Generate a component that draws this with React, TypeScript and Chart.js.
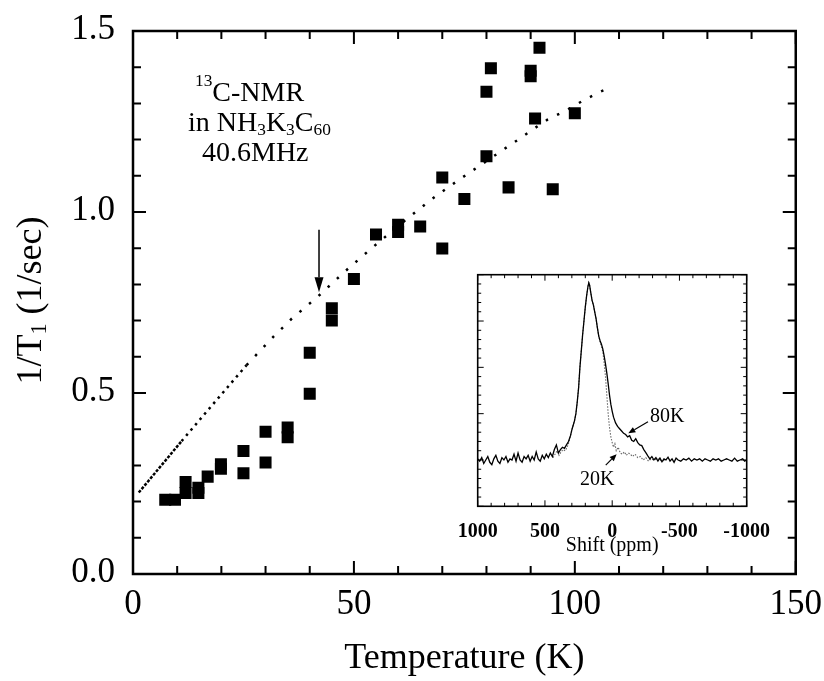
import React, { useEffect, useRef } from 'react';
import { Chart, registerables } from 'chart.js';

Chart.register(...registerables);

const SERIF = '"Liberation Serif", "Times New Roman", "DejaVu Serif", serif';

// ---- main data: 1/T1 vs temperature ----
const tempK = [7.3, 9.5, 11.9, 11.9, 14.8, 14.8, 16.9, 19.9, 19.9, 25, 25, 30, 30, 35, 35, 40, 40, 45, 45, 50, 55, 60, 60, 65, 70, 70, 75, 80, 80, 81, 85, 90, 90, 91, 92, 95, 100];
const invT1 = [0.205, 0.205, 0.254, 0.224, 0.238, 0.224, 0.269, 0.303, 0.291, 0.340, 0.278, 0.393, 0.308, 0.405, 0.378, 0.611, 0.498, 0.734, 0.700, 0.815, 0.938, 0.965, 0.945, 0.960, 0.899, 1.095, 1.036, 1.154, 1.332, 1.397, 1.068, 1.390, 1.375, 1.258, 1.454, 1.063, 1.273];

// dotted guide line (three density sections)
const fitDenseT = [1.3, 11];
const fitDenseV = [0.225, 0.367];
const fitMidT = [11, 16.7, 25.7];
const fitMidV = [0.367, 0.449, 0.577];
const fitT = [25.7, 31.9, 35.9, 41.9, 47.9, 53.9, 61.8, 67.9, 73.9, 83.9, 87.8, 91.8, 93.8, 97.8, 101.9, 105.9, 108];
const fitV = [0.577, 0.657, 0.705, 0.767, 0.835, 0.899, 0.979, 1.038, 1.09, 1.173, 1.205, 1.239, 1.255, 1.279, 1.308, 1.333, 1.344];

// arrow marking the transition
const arrowT = 42.1;
const arrowFrom = 0.951;
const arrowTo = 0.778;

const xTickLabels = [0, 50, 100, 150];
const yTickLabels = ['0.0', '0.5', '1.0', '1.5'];

// ---- inset data: spectra ----
const spec80Ppm = [1000, 985, 970, 955, 940, 925, 910, 895, 880, 865, 850, 835, 820, 805, 790, 775, 760, 745, 730, 715, 700, 685, 670, 655, 640, 625, 610, 595, 580, 565, 550, 535, 520, 505, 490, 475, 460, 445, 430, 415, 400, 385, 370, 355, 340, 325, 310, 300, 290, 280, 270, 260, 250, 240, 230, 220, 210, 200, 190, 180, 174, 168, 160, 150, 140, 130, 120, 110, 100, 90, 80, 70, 60, 50, 40, 30, 20, 10, 0, -10, -25, -40, -55, -70, -85, -100, -115, -130, -145, -160, -175, -190, -205, -220, -235, -250, -265, -280, -295, -310, -325, -340, -355, -370, -385, -400, -415, -430, -445, -460, -475, -490, -510, -530, -550, -570, -590, -610, -630, -650, -670, -690, -710, -730, -750, -770, -790, -810, -830, -850, -870, -890, -910, -930, -950, -970, -985, -1000];
const spec80Int = [0.205, 0.195, 0.210, 0.185, 0.200, 0.215, 0.190, 0.180, 0.205, 0.220, 0.195, 0.185, 0.210, 0.200, 0.215, 0.190, 0.205, 0.200, 0.225, 0.195, 0.230, 0.200, 0.190, 0.215, 0.205, 0.220, 0.195, 0.215, 0.200, 0.235, 0.205, 0.195, 0.220, 0.205, 0.225, 0.210, 0.230, 0.215, 0.245, 0.265, 0.230, 0.245, 0.255, 0.250, 0.265, 0.280, 0.305, 0.330, 0.350, 0.370, 0.400, 0.450, 0.510, 0.600, 0.670, 0.740, 0.800, 0.860, 0.910, 0.950, 0.965, 0.955, 0.925, 0.890, 0.870, 0.840, 0.810, 0.770, 0.735, 0.715, 0.700, 0.680, 0.650, 0.615, 0.575, 0.530, 0.480, 0.440, 0.410, 0.385, 0.360, 0.345, 0.335, 0.325, 0.315, 0.310, 0.300, 0.305, 0.285, 0.280, 0.292, 0.275, 0.265, 0.262, 0.245, 0.232, 0.218, 0.205, 0.215, 0.200, 0.210, 0.195, 0.208, 0.192, 0.205, 0.200, 0.212, 0.195, 0.205, 0.190, 0.208, 0.200, 0.195, 0.205, 0.200, 0.208, 0.195, 0.205, 0.200, 0.205, 0.195, 0.205, 0.200, 0.195, 0.205, 0.200, 0.205, 0.195, 0.200, 0.205, 0.200, 0.195, 0.208, 0.195, 0.200, 0.205, 0.195, 0.200, 0.200];

const spec20Ppm = [440, 425, 410, 395, 380, 365, 350, 335, 320, 310, 300, 290, 280, 270, 260, 250, 240, 230, 220, 210, 200, 190, 180, 174, 168, 160, 150, 140, 130, 120, 110, 100, 90, 80, 70, 60, 50, 40, 30, 20, 10, 0, -10, -20, -30, -45, -60, -75, -90, -105, -120, -135, -150, -170, -190, -210, -230, -250, -270, -290, -310, -340, -370, -400];
const spec20Int = [0.210, 0.225, 0.240, 0.220, 0.235, 0.245, 0.240, 0.255, 0.280, 0.305, 0.330, 0.350, 0.370, 0.400, 0.450, 0.510, 0.600, 0.670, 0.740, 0.800, 0.860, 0.910, 0.950, 0.965, 0.955, 0.925, 0.890, 0.870, 0.840, 0.810, 0.770, 0.735, 0.710, 0.690, 0.670, 0.620, 0.560, 0.480, 0.400, 0.340, 0.300, 0.275, 0.255, 0.270, 0.240, 0.255, 0.230, 0.225, 0.235, 0.220, 0.230, 0.225, 0.215, 0.225, 0.210, 0.215, 0.200, 0.210, 0.195, 0.205, 0.200, 0.205, 0.195, 0.200];

const insetTickLabels = [1000, 500, 0, -500, -1000];

// annotation anchors in the inset (data coordinates)
const label80 = { ppm: -281, y: 0.364, text: '80K' };
const arrow80 = { fromPpm: -266, fromY: 0.365, toPpm: -120, toY: 0.315 };
const label20 = { ppm: 239, y: 0.092, text: '20K' };
const arrow20 = { fromPpm: 48, fromY: 0.178, toPpm: -33, toY: 0.225 };

type Part = { t: string; k?: 'sub' | 'sup' };

function drawRich(ctx: CanvasRenderingContext2D, parts: Part[], x: number, y: number, size: number, align: 'left' | 'center') {
  const small = size * 0.62;
  let w = 0;
  for (const p of parts) {
    ctx.font = `${p.k ? small : size}px ${SERIF}`;
    w += ctx.measureText(p.t).width;
  }
  let cx = align === 'center' ? x - w / 2 : x;
  ctx.textAlign = 'left';
  ctx.textBaseline = 'alphabetic';
  for (const p of parts) {
    ctx.font = `${p.k ? small : size}px ${SERIF}`;
    const dy = p.k === 'sub' ? size * 0.14 : p.k === 'sup' ? -size * 0.52 : 0;
    ctx.fillText(p.t, cx, y + dy);
    cx += ctx.measureText(p.t).width;
  }
}

function drawArrow(ctx: CanvasRenderingContext2D, x1: number, y1: number, x2: number, y2: number, headLen: number, headHalf: number, lw: number) {
  const ang = Math.atan2(y2 - y1, x2 - x1);
  const bx = x2 - headLen * Math.cos(ang);
  const by = y2 - headLen * Math.sin(ang);
  ctx.lineWidth = lw;
  ctx.beginPath();
  ctx.moveTo(x1, y1);
  ctx.lineTo(bx, by);
  ctx.stroke();
  ctx.beginPath();
  ctx.moveTo(x2, y2);
  ctx.lineTo(bx + headHalf * Math.sin(ang), by - headHalf * Math.cos(ang));
  ctx.lineTo(bx - headHalf * Math.sin(ang), by + headHalf * Math.cos(ang));
  ctx.closePath();
  ctx.fill();
}

const mainDecor = {
  id: 'mainDecor',
  beforeDraw(chart: any) {
    const { ctx, width, height } = chart;
    ctx.save();
    ctx.fillStyle = '#fff';
    ctx.fillRect(0, 0, width, height);
    ctx.restore();
  },
  afterDraw(chart: any) {
    const { ctx, chartArea: a, scales } = chart;
    const x = scales.x;
    const y = scales.y;
    ctx.save();
    ctx.strokeStyle = '#000';
    ctx.fillStyle = '#000';
    ctx.lineWidth = 2;
    ctx.beginPath();
    for (let i = 0; i <= 15; i++) {
      const px = x.getPixelForValue(i * 10);
      const L = i % 5 === 0 ? 13 : 8;
      ctx.moveTo(px, a.bottom);
      ctx.lineTo(px, a.bottom - L);
      ctx.moveTo(px, a.top);
      ctx.lineTo(px, a.top + L);
    }
    for (let i = 0; i <= 15; i++) {
      const py = y.getPixelForValue(i / 10);
      const L = i % 5 === 0 ? 13 : 8;
      ctx.moveTo(a.left, py);
      ctx.lineTo(a.left + L, py);
      ctx.moveTo(a.right, py);
      ctx.lineTo(a.right - L, py);
    }
    ctx.stroke();
    ctx.lineWidth = 2.5;
    ctx.strokeRect(a.left, a.top, a.right - a.left, a.bottom - a.top);

    // transition arrow
    const ax = x.getPixelForValue(arrowT);
    drawArrow(ctx, ax, y.getPixelForValue(arrowFrom), ax, y.getPixelForValue(arrowTo), 15, 4.5, 1.5);

    // annotation
    const s = 28;
    drawRich(ctx, [{ t: '13', k: 'sup' }, { t: 'C-NMR' }], a.left + 62, a.top + 70, s, 'left');
    drawRich(ctx, [{ t: 'in NH' }, { t: '3', k: 'sub' }, { t: 'K' }, { t: '3', k: 'sub' }, { t: 'C' }, { t: '60', k: 'sub' }], a.left + 55, a.top + 100, s, 'left');
    drawRich(ctx, [{ t: '40.6MHz' }], a.left + 69, a.top + 130, s, 'left');

    // y axis title (rotated, with subscript)
    ctx.save();
    ctx.translate(41, (a.top + a.bottom) / 2 - 2);
    ctx.rotate(-Math.PI / 2);
    drawRich(ctx, [{ t: '1/T' }, { t: '1', k: 'sub' }, { t: ' (1/sec)' }], 0, 0, 36, 'center');
    ctx.restore();
    ctx.restore();
  },
};

const insetDecor = {
  id: 'insetDecor',
  beforeDraw(chart: any) {
    const { ctx, chartArea: a } = chart;
    ctx.save();
    ctx.fillStyle = '#fff';
    ctx.fillRect(a.left - 1, a.top - 1, a.right - a.left + 2, a.bottom - a.top + 2);
    ctx.restore();
  },
  afterDraw(chart: any) {
    const { ctx, chartArea: a, scales } = chart;
    const x = scales.x;
    const y = scales.y;
    ctx.save();
    ctx.strokeStyle = '#000';
    ctx.fillStyle = '#000';
    ctx.lineWidth = 1;
    ctx.beginPath();
    for (let i = -10; i <= 10; i++) {
      const px = x.getPixelForValue(i * 100);
      const L = i % 5 === 0 ? 6 : 3.5;
      ctx.moveTo(px, a.bottom);
      ctx.lineTo(px, a.bottom - L);
      ctx.moveTo(px, a.top);
      ctx.lineTo(px, a.top + L);
    }
    for (let i = 0; i <= 25; i++) {
      const py = y.getPixelForValue(i * 0.04);
      const L = i % 5 === 0 ? 6 : 3.5;
      ctx.moveTo(a.left, py);
      ctx.lineTo(a.left + L, py);
      ctx.moveTo(a.right, py);
      ctx.lineTo(a.right - L, py);
    }
    ctx.stroke();
    ctx.lineWidth = 1.6;
    ctx.strokeRect(a.left, a.top, a.right - a.left, a.bottom - a.top);

    drawArrow(ctx, x.getPixelForValue(arrow80.fromPpm), y.getPixelForValue(arrow80.fromY), x.getPixelForValue(arrow80.toPpm), y.getPixelForValue(arrow80.toY), 7, 3, 1.2);
    drawArrow(ctx, x.getPixelForValue(arrow20.fromPpm), y.getPixelForValue(arrow20.fromY), x.getPixelForValue(arrow20.toPpm), y.getPixelForValue(arrow20.toY), 7, 3, 1.2);

    ctx.font = `20px ${SERIF}`;
    ctx.textAlign = 'left';
    ctx.textBaseline = 'alphabetic';
    ctx.fillText(label80.text, x.getPixelForValue(label80.ppm), y.getPixelForValue(label80.y));
    ctx.fillText(label20.text, x.getPixelForValue(label20.ppm), y.getPixelForValue(label20.y));
    ctx.restore();
  },
};

export default function App() {
  const mainRef = useRef<HTMLCanvasElement>(null);
  const insetRef = useRef<HTMLCanvasElement>(null);

  useEffect(() => {
    const toXY = (xs: number[], ys: number[]) => xs.map((v, i) => ({ x: v, y: ys[i] }));

    const main = new Chart(mainRef.current!, {
      type: 'scatter',
      data: {
        datasets: [
          {
            label: '1/T1',
            data: toXY(tempK, invT1),
            pointStyle: 'rect',
            pointRadius: 8.5,
            backgroundColor: '#000',
            borderWidth: 0,
          },
          {
            label: 'fit dense',
            data: toXY(fitDenseT, fitDenseV),
            showLine: true,
            pointRadius: 0,
            borderColor: '#000',
            borderWidth: 2.5,
            borderDash: [3, 1.5],
            borderCapStyle: 'butt',
          },
          {
            label: 'fit mid',
            data: toXY(fitMidT, fitMidV),
            showLine: true,
            pointRadius: 0,
            borderColor: '#000',
            borderWidth: 2.5,
            borderDash: [2.5, 4.5],
            borderCapStyle: 'butt',
          },
          {
            label: 'fit',
            data: toXY(fitT, fitV),
            showLine: true,
            pointRadius: 0,
            borderColor: '#000',
            borderWidth: 2.5,
            borderDash: [2.5, 10],
            borderCapStyle: 'butt',
          },
        ],
      },
      options: {
        responsive: false,
        animation: false,
        devicePixelRatio: 1,
        events: [],
        layout: { padding: { left: 0, top: 27, right: 27, bottom: 0 } },
        plugins: { legend: { display: false }, tooltip: { enabled: false } },
        scales: {
          x: {
            type: 'linear',
            min: 0,
            max: 150,
            grid: { display: false },
            border: { display: false },
            ticks: {
              stepSize: 50,
              autoSkip: false,
              maxRotation: 0,
              padding: 2,
              color: '#000',
              font: { family: SERIF, size: 35 },
              callback: (v: any) => (xTickLabels.includes(Number(v)) ? String(v) : ''),
            },
            title: {
              display: true,
              text: 'Temperature (K)',
              color: '#000',
              font: { family: SERIF, size: 36 },
              padding: { top: 0, bottom: 1 },
            },
            afterFit: (s: any) => {
              s.height = 107;
            },
          },
          y: {
            type: 'linear',
            min: 0,
            max: 1.5,
            grid: { display: false },
            border: { display: false },
            ticks: {
              stepSize: 0.5,
              autoSkip: false,
              padding: 10,
              labelOffset: -1.5,
              color: '#000',
              font: { family: SERIF, size: 35 },
              callback: (v: any) => yTickLabels[Math.round(Number(v) / 0.5)] ?? '',
            },
            afterFit: (s: any) => {
              s.width = 133;
            },
          },
        },
      },
      plugins: [mainDecor],
    });

    const inset = new Chart(insetRef.current!, {
      type: 'scatter',
      data: {
        datasets: [
          {
            label: '80K',
            data: toXY(spec80Ppm, spec80Int),
            showLine: true,
            pointRadius: 0,
            borderColor: '#000',
            borderWidth: 1.3,
          },
          {
            label: '20K',
            data: toXY(spec20Ppm, spec20Int),
            showLine: true,
            pointRadius: 0,
            borderColor: '#666',
            borderWidth: 1.1,
            borderDash: [1.5, 1.5],
          },
        ],
      },
      options: {
        responsive: false,
        animation: false,
        devicePixelRatio: 1,
        events: [],
        layout: { padding: { left: 57.7, top: 14.7, right: 53.3, bottom: 0 } },
        plugins: { legend: { display: false }, tooltip: { enabled: false } },
        scales: {
          x: {
            type: 'linear',
            min: -1000,
            max: 1000,
            reverse: true,
            grid: { display: false },
            border: { display: false },
            ticks: {
              stepSize: 500,
              autoSkip: false,
              maxRotation: 0,
              padding: 6,
              color: '#000',
              font: { family: SERIF, size: 20, weight: 'bold' },
              callback: (v: any) => (insetTickLabels.includes(Number(v)) ? String(v) : ''),
            },
            title: {
              display: true,
              text: 'Shift (ppm)',
              color: '#000',
              font: { family: SERIF, size: 20 },
              padding: { top: 0, bottom: 12 },
            },
            afterFit: (s: any) => {
              s.height = 63.7;
            },
          },
          y: {
            type: 'linear',
            min: 0,
            max: 1,
            display: false,
          },
        },
      },
      plugins: [insetDecor],
    });

    return () => {
      main.destroy();
      inset.destroy();
    };
  }, []);

  return (
    <div style={{ position: 'absolute', left: 0, top: 0, width: 824, height: 681 }}>
      <canvas ref={mainRef} width={824} height={681} style={{ position: 'absolute', left: 0, top: 0 }} />
      <canvas ref={insetRef} width={380} height={310} style={{ position: 'absolute', left: 420, top: 260 }} />
    </div>
  );
}
